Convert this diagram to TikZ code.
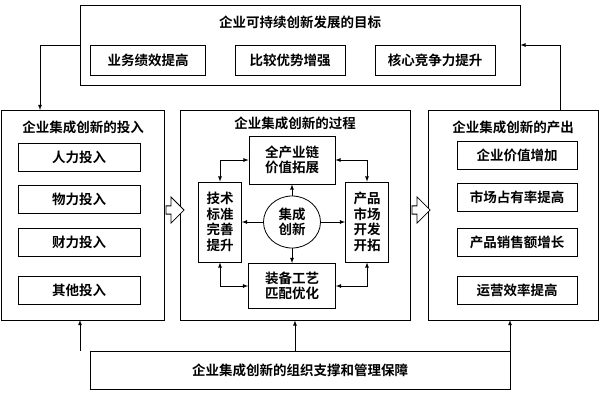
\documentclass[tikz,border=0pt]{standalone}
\usepackage{fontspec}
\newfontfamily\cjk{Noto Sans CJK SC}[BoldFont={Noto Sans CJK SC Bold}]
\usetikzlibrary{shapes.arrows,shapes.geometric}
\begin{document}
\begin{tikzpicture}[x=1pt,y=-1pt,
  font=\cjk\bfseries\fontsize{13.5}{15.5}\selectfont,
  frame/.style={draw, thick, fill=white},
  item/.style={draw, thick, inner sep=2pt, align=center},
  link/.style={thick, -latex},
  both/.style={thick, latex-latex}
]
\useasboundingbox (0,0) rectangle (600,400);
% outer frames
\node[frame, minimum width=440, minimum height=80] (goal) at (300,45) {};
\node[frame, minimum width=163, minimum height=210] (inp) at (83,215) {};
\node[frame, minimum width=230, minimum height=210] (proc) at (295,215) {};
\node[frame, minimum width=170, minimum height=210] (outp) at (513,215) {};
\node[frame, minimum width=420, minimum height=38] (base) at (300,370) {企业集成创新的组织支撑和管理保障};

% titles
\node at (300,22) {企业可持续创新发展的目标};
\node at (83,127) {企业集成创新的投入};
\node at (295,123) {企业集成创新的过程};
\node at (513,127) {企业集成创新的产出};

% goals
\node[item, minimum width=115, minimum height=30] (g1) at (148,60) {业务绩效提高};
\node[item, minimum width=110, minimum height=30] (g2) at (290,60) {比较优势增强};
\node[item, minimum width=120, minimum height=30] (g3) at (435,60) {核心竞争力提升};

% inputs
\node[item, minimum width=122, minimum height=28] (i1) at (79,157) {人力投入};
\node[item, minimum width=122, minimum height=28] (i2) at (79,199) {物力投入};
\node[item, minimum width=122, minimum height=28] (i3) at (79,242) {财力投入};
\node[item, minimum width=122, minimum height=28] (i4) at (79,290) {其他投入};

% outputs
\node[item, minimum width=120, minimum height=28] (o1) at (517,155) {企业价值增加};
\node[item, minimum width=120, minimum height=28] (o2) at (517,197) {市场占有率提高};
\node[item, minimum width=120, minimum height=28] (o3) at (517,242) {产品销售额增长};
\node[item, minimum width=120, minimum height=28] (o4) at (517,290) {运营效率提高};

% process
\node[item, minimum width=86, minimum height=48] (chain) at (292,160) {全产业链\\价值拓展};
\node[item, minimum width=43, minimum height=80] (tech) at (220,222) {技术\\标准\\完善\\提升};
\node[item, minimum width=43, minimum height=80] (mkt) at (367,222) {产品\\市场\\开发\\开拓};
\node[item, minimum width=87, minimum height=45] (equip) at (292,286) {装备工艺\\匹配优化};
\node[draw, thick, ellipse, minimum width=57, minimum height=52, inner sep=0pt, align=center] (core) at (292,222) {集成\\创新};

\draw[link] (core) -- (chain);
\draw[link] (core) -- (tech);
\draw[link] (core) -- (mkt);
\draw[link] (core) -- (equip);
\draw[both] (tech.north) |- (chain.west);
\draw[both] (mkt.north) |- (chain.east);
\draw[both] (tech.south) |- (equip.west);
\draw[both] (mkt.south) |- (equip.east);

% frame links
\draw[link] (goal.west |- 0,45) -| (40,110);
\draw[link] (560,110) |- (goal.east |- 0,45);
\draw[link] (base.north -| 80,0) -- (80,320);
\draw[link] (base.north -| 510,0) -- (510,320);
\draw[link] (base.north -| 295,0) -- (proc.south);

% hollow arrows
\node[draw, thick, fill=white, single arrow, minimum height=18, minimum width=26, single arrow head extend=3, inner sep=1pt] at (173,210) {};
\node[draw, thick, fill=white, single arrow, minimum height=18, minimum width=26, single arrow head extend=3, inner sep=1pt] at (419,210) {};
\end{tikzpicture}
\end{document}
